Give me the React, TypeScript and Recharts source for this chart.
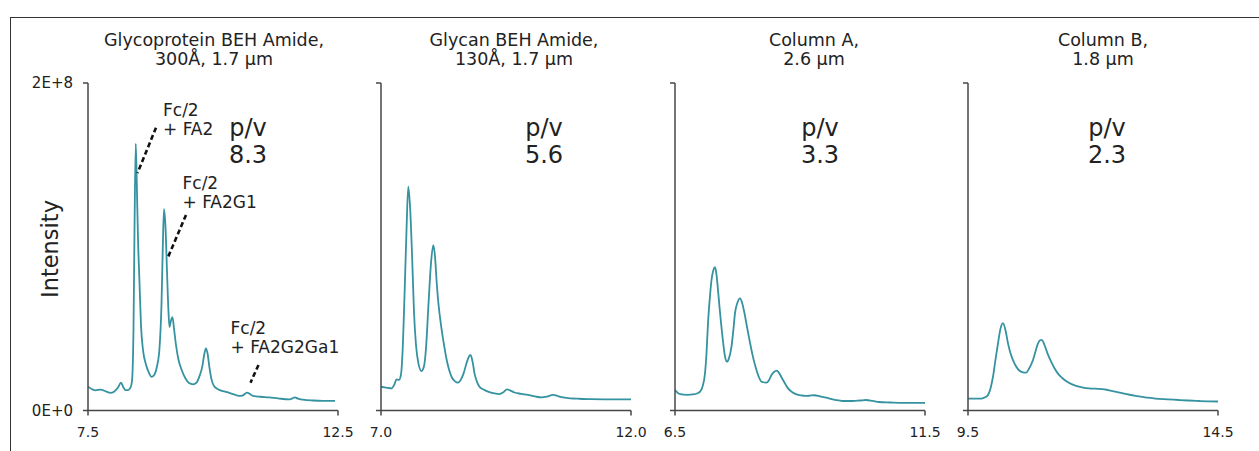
import React from 'react';
import { LineChart, Line, XAxis, YAxis, ReferenceLine } from 'recharts';

// ---------- data (intensity values in units of 1E+6) ----------
const glycoproteinTime = [7.5, 7.58, 7.65, 7.75, 7.87, 7.95, 8.02, 8.1, 8.16, 8.21, 8.25, 8.3, 8.35, 8.38, 8.41, 8.43, 8.455, 8.475, 8.5, 8.53, 8.56, 8.6, 8.66, 8.72, 8.77, 8.83, 8.88, 8.93, 8.97, 9.0, 9.02, 9.05, 9.08, 9.11, 9.13, 9.16, 9.19, 9.22, 9.26, 9.31, 9.37, 9.45, 9.52, 9.6, 9.67, 9.73, 9.78, 9.83, 9.86, 9.89, 9.93, 9.97, 10.02, 10.1, 10.2, 10.3, 10.42, 10.52, 10.6, 10.68, 10.74, 10.8, 10.95, 11.12, 11.3, 11.52, 11.58, 11.64, 11.7, 11.8, 12.0, 12.2, 12.44];
const glycoproteinIntensity = [14.5, 13, 12.3, 12.8, 11.5, 10.8, 11.5, 14, 17, 14, 12.5, 12.5, 14, 18, 50, 110, 163, 140, 105, 78, 52, 37, 28, 23, 20.5, 22, 27, 38, 65, 105, 123, 112, 85, 60, 51, 55, 57, 50, 40, 31, 25, 19.5, 16.8, 16, 17, 21, 26, 35, 38, 35, 26, 19, 15, 13, 11.8, 11, 9.8, 8.9, 9.3, 10.9, 10, 8.9, 8.4, 8, 7.4, 6.8, 7.3, 8, 7.2, 6.6, 6.1, 5.9, 5.9];

const glycanTime = [7.0, 7.1, 7.21, 7.27, 7.31, 7.36, 7.4, 7.43, 7.47, 7.51, 7.545, 7.58, 7.62, 7.66, 7.7, 7.75, 7.81, 7.86, 7.9, 7.95, 8.0, 8.045, 8.08, 8.11, 8.14, 8.17, 8.21, 8.25, 8.3, 8.36, 8.42, 8.48, 8.54, 8.6, 8.65, 8.71, 8.76, 8.79, 8.83, 8.87, 8.92, 8.97, 9.05, 9.14, 9.25, 9.37, 9.45, 9.52, 9.58, 9.67, 9.8, 9.94, 10.08, 10.21, 10.32, 10.44, 10.55, 10.67, 10.8, 10.94, 11.2, 11.47, 11.75, 12.0];
const glycanIntensity = [14.5, 14, 13.5, 16, 19, 18.7, 22, 35, 70, 110, 136.7, 125, 96, 60, 40, 28.5, 24.1, 27, 38, 65, 90, 101, 94, 80, 68, 59.4, 50, 42, 33, 25, 20, 17.8, 17, 19, 22.5, 28.8, 33, 34, 30, 22.7, 17.5, 14.5, 12.8, 11.5, 10.6, 10, 11.2, 12.9, 12.3, 11, 10.2, 9.5, 8.6, 8, 8.5, 9.5, 8.7, 7.8, 7.4, 7.2, 6.9, 6.8, 6.8, 6.8];

const columnATime = [6.5, 6.6, 6.75, 6.86, 6.95, 7.0, 7.05, 7.1, 7.13, 7.16, 7.2, 7.23, 7.27, 7.3, 7.33, 7.36, 7.4, 7.45, 7.5, 7.54, 7.58, 7.63, 7.67, 7.7, 7.75, 7.8, 7.84, 7.89, 7.94, 7.99, 8.05, 8.11, 8.17, 8.23, 8.33, 8.38, 8.43, 8.48, 8.53, 8.58, 8.63, 8.7, 8.76, 8.84, 8.92, 9.02, 9.12, 9.2, 9.29, 9.4, 9.52, 9.7, 9.85, 10.05, 10.2, 10.32, 10.45, 10.58, 10.8, 11.05, 11.3, 11.5];
const columnAIntensity = [12.5, 10, 9.6, 9.8, 10.5, 11.5, 14.5, 22.7, 35, 53.3, 70, 79.7, 86, 87.5, 83, 73.6, 60, 45, 33, 29.8, 32, 39, 50, 59.4, 66, 68.5, 66, 59.4, 51, 43, 34, 26.7, 21, 17.6, 17, 18.5, 21.7, 23.5, 24.3, 23, 20.3, 16.5, 13.5, 11.3, 10, 9.2, 8.9, 9.1, 9.3, 8.6, 7.8, 6.5, 5.8, 5.8, 6.1, 6.4, 5.9, 5.2, 4.9, 4.6, 4.6, 4.6];

const columnBTime = [9.5, 9.65, 9.77, 9.85, 9.9, 9.95, 10.0, 10.05, 10.1, 10.15, 10.2, 10.25, 10.3, 10.35, 10.4, 10.46, 10.53, 10.6, 10.66, 10.72, 10.8, 10.85, 10.9, 10.95, 10.98, 11.03, 11.09, 11.16, 11.23, 11.3, 11.39, 11.5, 11.66, 11.8, 11.92, 12.05, 12.19, 12.3, 12.45, 12.65, 12.85, 13.05, 13.25, 13.5, 13.72, 13.9, 14.12, 14.3, 14.5];
const columnBIntensity = [7.2, 7.2, 7.2, 8.2, 9.5, 13.5, 20.6, 31, 41, 50, 53.3, 49, 41, 35, 30.8, 27, 24.3, 23.3, 23.1, 25.5, 30.8, 36, 41, 43, 43, 40, 34.9, 30, 25.8, 22.5, 19.7, 17.2, 15, 14, 13.5, 13.3, 13.1, 12.5, 11.5, 10.1, 8.9, 8, 7.2, 6.8, 6.4, 6.1, 5.8, 5.6, 5.5];

const panelTitles = [
  ['Glycoprotein BEH Amide,', '300Å, 1.7 μm'],
  ['Glycan BEH Amide,', '130Å, 1.7 μm'],
  ['Column A,', '2.6 μm'],
  ['Column B,', '1.8 μm'],
];
const pvValues = ['8.3', '5.6', '3.3', '2.3'];
const xDomains = [[7.5, 12.5], [7.0, 12.0], [6.5, 11.5], [9.5, 14.5]];
const yTickValues = [0, 200];
const yTickLabels = ['0E+0', '2E+8'];

// annotation segments for panel 1 (time, intensity E+6)
const annotationSegments = [
  [[8.86, 172.7], [8.49, 145]],
  [[9.46, 119.4], [9.09, 92.9]],
  [[10.91, 27.8], [10.75, 17]],
];
const annotationTexts = [
  ['Fc/2', '+ FA2'],
  ['Fc/2', '+ FA2G1'],
  ['Fc/2', '+ FA2G2Ga1'],
];

// ---------- styling / layout ----------
const FONT = '"DejaVu Sans", Verdana, sans-serif';
const TEXT = '#222';
const AXIS = '#474747';
const TRACE = '#3592a0';

const PLOT_LEFTS = [88, 381, 675, 968];
const PLOT_W = 250;
const M_LEFT = 20;
const Y_AXIS_W = 60;
const M_RIGHT = 40;
const CHART_H = 451;
const PLOT_TOP = 83;
const X_AXIS_H = 30;
const M_BOTTOM = 10.5;

const titleCenters = [214, 514, 814, 1103];
const pvCenters = [248, 544, 820, 1107];
const annotationPos = [
  { left: 163, top: 100.5 },
  { left: 182.5, top: 173.5 },
  { left: 230.5, top: 318.5 },
];

const series = [
  { time: glycoproteinTime, intensity: glycoproteinIntensity },
  { time: glycanTime, intensity: glycanIntensity },
  { time: columnATime, intensity: columnAIntensity },
  { time: columnBTime, intensity: columnBIntensity },
];

function Panel({ index }: { index: number }) {
  const s = series[index];
  const data = s.time.map((t, i) => ({ t, v: s.intensity[i] }));
  const dom = xDomains[index];
  const left = PLOT_LEFTS[index] - M_LEFT - Y_AXIS_W;
  return (
    <div style={{ position: 'absolute', left, top: 0 }}>
      <LineChart
        width={M_LEFT + Y_AXIS_W + PLOT_W + M_RIGHT}
        height={CHART_H}
        data={data}
        margin={{ top: PLOT_TOP, right: M_RIGHT, left: M_LEFT, bottom: M_BOTTOM }}
      >
        <XAxis
          dataKey="t"
          type="number"
          domain={dom}
          ticks={dom}
          interval={0}
          height={X_AXIS_H}
          allowDataOverflow
          stroke={AXIS}
          strokeWidth={1.5}
          tickSize={5}
          tickMargin={12}
          tickFormatter={(v: number) => v.toFixed(1)}
          tick={{ fill: TEXT, fontSize: 14, fontFamily: FONT }}
        />
        <YAxis
          type="number"
          domain={[0, 200]}
          ticks={yTickValues}
          interval={0}
          width={Y_AXIS_W}
          stroke={AXIS}
          strokeWidth={1.5}
          tickSize={5}
          tickMargin={10}
          tickFormatter={(v: number) => (index === 0 ? yTickLabels[yTickValues.indexOf(v)] : '')}
          tick={{ fill: TEXT, fontSize: 15, fontFamily: FONT }}
        />
        <Line
          type="monotone"
          dataKey="v"
          stroke={TRACE}
          strokeWidth={1.8}
          dot={false}
          isAnimationActive={false}
        />
        {index === 0 &&
          annotationSegments.map((seg, i) => (
            <ReferenceLine
              key={i}
              segment={[
                { x: seg[0][0], y: seg[0][1] },
                { x: seg[1][0], y: seg[1][1] },
              ]}
              stroke="#111"
              strokeWidth={2.6}
              strokeDasharray="5 3"
              ifOverflow="visible"
            />
          ))}
      </LineChart>
    </div>
  );
}

export default function App() {
  return (
    <div
      style={{
        position: 'fixed',
        left: 0,
        top: 0,
        width: 1259,
        height: 451,
        overflow: 'hidden',
        background: '#fff',
        fontFamily: FONT,
        color: TEXT,
      }}
    >
      <div
        style={{
          position: 'absolute',
          left: 10,
          top: 17,
          width: 1400,
          height: 600,
          borderTop: '1.5px solid #333',
          borderLeft: '1.5px solid #333',
        }}
      />
      {[0, 1, 2, 3].map((i) => (
        <Panel key={i} index={i} />
      ))}
      {panelTitles.map((lines, i) => (
        <div
          key={'t' + i}
          style={{
            position: 'absolute',
            left: titleCenters[i] - 160,
            width: 320,
            top: 30.5,
            textAlign: 'center',
            fontSize: 17.5,
            lineHeight: '19.5px',
            whiteSpace: 'pre',
          }}
        >
          {lines[0]}
          <br />
          {lines[1]}
        </div>
      ))}
      {pvValues.map((pv, i) => (
        <div
          key={'p' + i}
          style={{
            position: 'absolute',
            left: pvCenters[i] - 60,
            width: 120,
            top: 114.5,
            textAlign: 'center',
            fontSize: 24,
            lineHeight: '27px',
          }}
        >
          p/v
          <br />
          {pv}
        </div>
      ))}
      {annotationTexts.map((lines, i) => (
        <div
          key={'a' + i}
          style={{
            position: 'absolute',
            left: annotationPos[i].left,
            top: annotationPos[i].top,
            fontSize: 17,
            lineHeight: '19px',
            whiteSpace: 'pre',
          }}
        >
          {lines[0]}
          <br />
          {lines[1]}
        </div>
      ))}
      <div
        style={{
          position: 'absolute',
          left: 50 - 80,
          top: 249 - 15,
          width: 160,
          height: 30,
          lineHeight: '30px',
          textAlign: 'center',
          fontSize: 22.5,
          transform: 'rotate(-90deg)',
        }}
      >
        Intensity
      </div>
    </div>
  );
}
